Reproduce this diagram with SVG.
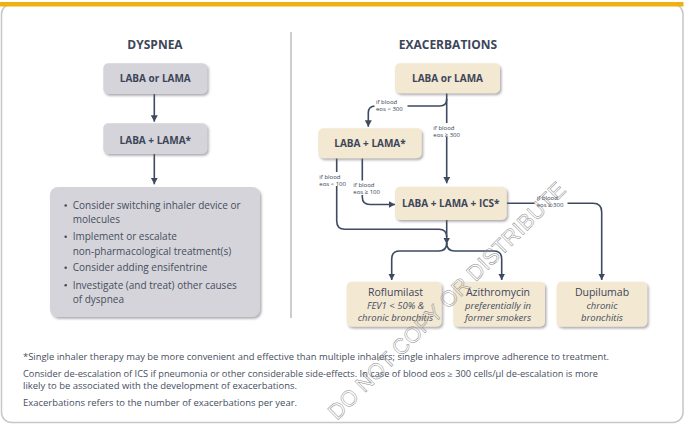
<svg xmlns="http://www.w3.org/2000/svg" width="686" height="427" viewBox="0 0 686 427">
<defs>
<filter id="sh" x="-10%" y="-10%" width="125%" height="135%">
<feDropShadow dx="1.5" dy="1.8" stdDeviation="0.9" flood-color="#6b6b70" flood-opacity="0.55"/>
</filter>
<marker id="ah" markerUnits="userSpaceOnUse" markerWidth="8" markerHeight="8" refX="6.5" refY="3.5" orient="auto">
<path d="M0,0 L6.5,3.5 L0,7 z" fill="#3d4a5f"/>
</marker>
</defs>
<style>
.gray{fill:#d5d4da;}
.beige{fill:#f3e8d2;}
.bt{font-family:"Open Sans","Liberation Sans",sans-serif;font-weight:bold;font-size:10px;fill:#3d4658;text-anchor:middle;}
.title{font-family:"Open Sans","Liberation Sans",sans-serif;font-weight:bold;font-size:12px;fill:#3d4658;text-anchor:middle;}
.tx{font-family:"Open Sans","Liberation Sans",sans-serif;font-size:10px;fill:#454e5e;}
.nm{font-family:"Open Sans","Liberation Sans",sans-serif;font-size:10.5px;fill:#3d4658;text-anchor:middle;}
.it{font-family:"Open Sans","Liberation Sans",sans-serif;font-style:italic;font-size:9.5px;fill:#454e5e;text-anchor:middle;}
.lb{font-family:"Open Sans","Liberation Sans",sans-serif;font-size:6px;fill:#333d4f;}
.fn{font-family:"Open Sans","Liberation Sans",sans-serif;font-size:8.3px;fill:#454e5e;}
.cn{fill:none;stroke:#3d4a5f;stroke-width:1.6;}
.bg{fill:#ffffff;}
.wm{font-family:"Liberation Sans",sans-serif;font-size:22px;fill:none;stroke:#8c8c8c;stroke-width:0.5;text-anchor:middle;}
</style>
<rect x="1.5" y="4" width="681.5" height="418.5" rx="10" fill="#ffffff" stroke="#c6c6cc" stroke-width="1.5"/>
<rect x="0" y="2" width="683.5" height="4.5" fill="#eeb112"/>
<line x1="291" y1="32" x2="291" y2="318" stroke="#9a9aa0" stroke-width="1"/>
<text class="title" x="155" y="48.5">DYSPNEA</text>
<text class="title" x="448" y="48.5">EXACERBATIONS</text>
<g id="connectors">
<path class="cn" d="M154.3,94 V121.7" marker-end="url(#ah)"/>
<path class="cn" d="M154.3,154 V184.3" marker-end="url(#ah)"/>
<path class="cn" d="M446.7,93.3 V183.3" marker-end="url(#ah)"/>
<path class="cn" d="M446.7,99 Q446.7,106 439.7,106 H375.3 Q368.3,106 368.3,113 V126.7" marker-end="url(#ah)"/>
<path class="cn" d="M336.7,158.3 V221 Q336.7,229.3 345,229.3 H439 Q446.7,229.3 446.7,237"/>
<path class="cn" d="M362.3,158.3 V197 Q362.3,204.5 370,204.5 H395" marker-end="url(#ah)"/>
<path class="cn" d="M446.7,220 V244" marker-end="url(#ah)"/>
<path class="cn" d="M446.7,243 Q446.7,251 438.7,251 H399.7 Q391.7,251 391.7,259 V280" marker-end="url(#ah)"/>
<path class="cn" d="M446.7,243 Q446.7,251 454.7,251 H493.7 Q501.7,251 501.7,259 V280" marker-end="url(#ah)"/>
<path class="cn" d="M506.7,203.3 H593 Q601.7,203.3 601.7,212 V280" marker-end="url(#ah)"/>
<g id="labels">
<rect class="bg" x="374.5" y="99" width="33" height="13.5"/>
<text class="lb" x="376" y="104.3">if blood</text>
<text class="lb" x="376" y="111">eos &lt; 300</text>
<rect class="bg" x="432" y="123" width="31" height="14"/>
<text class="lb" x="433.3" y="129.8">if blood</text>
<text class="lb" x="433.3" y="136.5">eos ≥ 300</text>
<rect class="bg" x="318" y="172" width="30" height="14"/>
<text class="lb" x="319.3" y="178.8">if blood</text>
<text class="lb" x="319.3" y="185.5">eos &lt; 100</text>
<rect class="bg" x="352" y="180.5" width="30" height="14.5"/>
<text class="lb" x="353.3" y="187.3">if blood</text>
<text class="lb" x="353.3" y="194">eos ≥ 100</text>
<rect class="bg" x="534.5" y="195" width="33" height="13.5"/>
<text class="lb" x="536.7" y="200.3">if blood</text>
<text class="lb" x="536.7" y="207">eos ≥ 300</text>
</g>
</g>
<g id="d1">
<rect class="gray" x="103.3" y="63.3" width="104" height="30.7" rx="5" filter="url(#sh)"/>
<text class="bt" x="155.3" y="82">LABA or LAMA</text>
</g>
<g id="d2">
<rect class="gray" x="103.3" y="123.3" width="104" height="30.7" rx="5" filter="url(#sh)"/>
<text class="bt" x="155.3" y="143.5">LABA + LAMA*</text>
</g>
<g id="d3">
<rect class="gray" x="50" y="187" width="210" height="130" rx="8" filter="url(#sh)"/>
<circle cx="65.7" cy="205.5" r="1.3" fill="#454e5e"/>
<text class="tx" x="72.7" y="209">Consider switching inhaler device or</text>
<text class="tx" x="72.7" y="223">molecules</text>
<circle cx="65.7" cy="236.8" r="1.3" fill="#454e5e"/>
<text class="tx" x="72.7" y="240.3">Implement or escalate</text>
<text class="tx" x="72.7" y="254.5">non-pharmacological treatment(s)</text>
<circle cx="65.7" cy="267.7" r="1.3" fill="#454e5e"/>
<text class="tx" x="72.7" y="271.2">Consider adding ensifentrine</text>
<circle cx="65.7" cy="285.3" r="1.3" fill="#454e5e"/>
<text class="tx" x="72.7" y="288.8">Investigate (and treat) other causes</text>
<text class="tx" x="72.7" y="302.8">of dyspnea</text>
</g>
<g id="e1">
<rect class="beige" x="395" y="63.3" width="105" height="30" rx="5" filter="url(#sh)"/>
<text class="bt" x="447.5" y="82">LABA or LAMA</text>
</g>
<g id="e2">
<rect class="beige" x="318.3" y="128.3" width="103.4" height="30" rx="5" filter="url(#sh)"/>
<text class="bt" x="370" y="147">LABA + LAMA*</text>
</g>
<g id="e3">
<rect class="beige" x="395" y="186.7" width="111.7" height="33.3" rx="5" filter="url(#sh)"/>
<text class="bt" x="450.8" y="206.5">LABA + LAMA + ICS*</text>
</g>
<g id="e4">
<rect class="beige" x="346.7" y="281.7" width="95" height="45" rx="5" filter="url(#sh)"/>
<text class="nm" x="395.5" y="295.5">Roflumilast</text>
<text class="it" x="395.5" y="308.5">FEV1 &lt; 50% &amp;</text>
<text class="it" x="395.5" y="320.5">chronic bronchitis</text>
</g>
<g id="e5">
<rect class="beige" x="453.3" y="281.7" width="91.7" height="45" rx="5" filter="url(#sh)"/>
<text class="nm" x="498" y="295.5">Azithromycin</text>
<text class="it" x="498" y="308.5">preferentially in</text>
<text class="it" x="498" y="320.5">former smokers</text>
</g>
<g id="e6">
<rect class="beige" x="556.7" y="281.7" width="90.6" height="45" rx="5" filter="url(#sh)"/>
<text class="nm" x="602" y="295.5">Dupilumab</text>
<text class="it" x="602" y="308.5">chronic</text>
<text class="it" x="602" y="320.5">bronchitis</text>
</g>
<g id="footnotes">
<text class="fn" x="23" y="360" textLength="586" lengthAdjust="spacingAndGlyphs">*Single inhaler therapy may be more convenient and effective than multiple inhalers; single inhalers improve adherence to treatment.</text>
<text class="fn" x="23" y="376.5" textLength="575" lengthAdjust="spacingAndGlyphs">Consider de-escalation of ICS if pneumonia or other considerable side-effects. In case of blood eos ≥ 300 cells/µl de-escalation is more</text>
<text class="fn" x="23" y="389" textLength="274" lengthAdjust="spacingAndGlyphs">likely to be associated with the development of exacerbations.</text>
<text class="fn" x="23" y="406" textLength="274" lengthAdjust="spacingAndGlyphs">Exacerbations refers to the number of exacerbations per year.</text>
</g>
<text class="wm" x="452" y="306" transform="rotate(-45 452 306)" textLength="325" lengthAdjust="spacingAndGlyphs">DO NOT COPY OR DISTRIBUTE</text>
</svg>
